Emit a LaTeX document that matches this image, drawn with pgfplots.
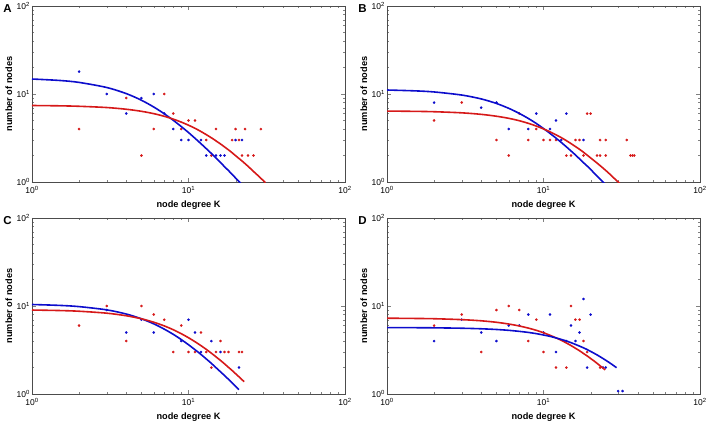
\documentclass[border=0pt]{standalone}
\usepackage{pgfplots}
\pgfplotsset{compat=1.18}
\usepackage{fontspec}
\setmainfont{Liberation Sans}
\usepackage{graphicx}
\definecolor{myblue}{rgb}{0.05,0.05,0.80}
\definecolor{myred}{rgb}{0.84,0.1,0.1}
\newcommand{\tl}[1]{10\textsuperscript{#1}}
\pgfplotsset{every axis/.append style={
    scale only axis, width=313pt, height=176pt, anchor=south west,
    xmin=1, xmax=100, ymin=1, ymax=100, clip mode=individual,
    axis line style={line width=0.6pt, black!70},
    tick align=inside, xtick pos=both, ytick pos=both,
    major tick length=4pt, minor tick length=2pt,
    xtick={1,10,100}, ytick={1,10,100},
    xticklabels={\tl{0},\tl{1},\tl{2}},
    yticklabels={\tl{0},\tl{1},\tl{2}},
    tick label style={font=\fontsize{8.5}{9}\selectfont},
    xticklabel style={yshift=-1pt},
    yticklabel style={xshift=1.5pt},
    xlabel={\bfseries node degree K},
    ylabel={\bfseries number of nodes},
    label style={font=\fontsize{9.2}{10}\selectfont},
    xlabel style={at={(axis description cs:0.5,0)}, anchor=base, yshift=-25pt},
    ylabel style={at={(axis description cs:-0.074,0.5)}, anchor=center},
}}
\begin{document}
\begin{tikzpicture}
\useasboundingbox (0,0) rectangle (708pt,426pt);
% ---------------- A
\begin{loglogaxis}[at={(32pt,244pt)}]
\addplot[only marks, mark=*, mark size=1.1pt, myblue] coordinates {(2,18)(3,10)(4,6)(5,9)(6,10)(7,6)(8,4)(9,3)(10,3)(12,3)(13,2)(15,2)(16,2)(17,2)(20,3)(22,3)};
\addplot[only marks, mark=*, mark size=1.1pt, myred] coordinates {(2,4)(4,9)(5,2)(6,4)(7,10)(8,6)(9,4)(10,5)(11,5)(13,3)(14,2)(15,4)(19,3)(20,4)(21,3)(22,2)(23,4)(24,2)(26,2)(29,4)};
\addplot[smooth, no marks, line width=1.6pt, myblue] coordinates {(1,14.80)(1.5,14.25)(2,13.54)(3,11.86)(4,10.11)(5,8.50)(6,7.11)(7,5.96)(8,5.02)(9,4.26)(10,3.65)(11,3.14)(12,2.73)(13,2.39)(14,2.11)(15,1.87)(16,1.67)(17,1.49)(18,1.35)(19,1.22)(20,1.11)(21,1.014)(22,0.929)};
\addplot[smooth, no marks, line width=1.6pt, myred] coordinates {(1,7.40)(1.5,7.34)(2,7.25)(3,7.02)(4,6.71)(5,6.36)(6,5.98)(7,5.58)(8,5.18)(9,4.79)(10,4.42)(11,4.08)(12,3.75)(13,3.45)(14,3.18)(15,2.93)(16,2.71)(17,2.50)(18,2.32)(19,2.15)(20,1.99)(22,1.73)(24,1.51)(26,1.32)(28,1.17)(30,1.04)(31,0.983)};
\node[font=\fontsize{11.5}{12}\selectfont\bfseries] at (axis description cs:-0.078,0.985) {A};
\end{loglogaxis}
% ---------------- B
\begin{loglogaxis}[at={(387pt,244pt)}]
\addplot[only marks, mark=*, mark size=1.1pt, myblue] coordinates {(2,8)(4,7)(5,8)(6,4)(8,4)(9,6)(11,4)(12,5)(13,3)(14,6)(18,3)};
\addplot[only marks, mark=*, mark size=1.1pt, myred] coordinates {(2,5)(3,8)(5,3)(6,2)(7,6)(8,3)(9,4)(10,3)(11,3)(12,3)(14,2)(15,2)(16,3)(17,3)(18,2)(19,6)(20,6)(22,2)(23,2)(23,3)(25,2)(25,3)(34,3)(36,2)(37,2)(38,2)};
\addplot[smooth, no marks, line width=1.6pt, myblue] coordinates {(1,11.10)(1.5,10.86)(2,10.55)(3,9.73)(4,8.79)(5,7.81)(6,6.87)(7,6.02)(8,5.27)(9,4.62)(10,4.05)(11,3.57)(12,3.16)(13,2.81)(14,2.51)(15,2.25)(16,2.03)(17,1.83)(18,1.66)(19,1.52)(20,1.39)(21,1.27)(22,1.17)(23,1.08)(24,1.00)(25,0.93)};
\addplot[smooth, no marks, line width=1.6pt, myred] coordinates {(1,6.40)(1.5,6.35)(2,6.29)(3,6.11)(4,5.87)(5,5.59)(6,5.29)(7,4.97)(8,4.64)(9,4.32)(10,4.01)(11,3.72)(12,3.44)(13,3.19)(14,2.95)(15,2.73)(16,2.53)(17,2.35)(18,2.18)(19,2.02)(20,1.88)(22,1.64)(24,1.44)(26,1.27)(28,1.12)(30,1.00)(31,0.946)};
\node[font=\fontsize{11.5}{12}\selectfont\bfseries] at (axis description cs:-0.078,0.985) {B};
\end{loglogaxis}
% ---------------- C
\begin{loglogaxis}[at={(32pt,32pt)}]
\addplot[only marks, mark=*, mark size=1.1pt, myblue] coordinates {(3,9)(4,5)(5,7)(6,5)(9,4)(10,7)(11,5)(12,3)(14,4)(16,3)(21,2)};
\addplot[only marks, mark=*, mark size=1.1pt, myred] coordinates {(2,6)(3,10)(4,4)(5,10)(6,8)(7,7)(8,3)(9,6)(10,3)(11,3)(12,5)(13,3)(14,2)(15,3)(16,4)(17,3)(18,3)(21,3)(22,3)};
\addplot[smooth, no marks, line width=1.6pt, myblue] coordinates {(1,10.40)(1.5,10.16)(2,9.84)(3,9.04)(4,8.11)(5,7.16)(6,6.27)(7,5.46)(8,4.76)(9,4.15)(10,3.63)(11,3.19)(12,2.82)(13,2.50)(14,2.23)(15,1.99)(16,1.79)(17,1.62)(18,1.47)(19,1.34)(20,1.22)(21,1.12)};
\addplot[smooth, no marks, line width=1.6pt, myred] coordinates {(1,9.00)(1.5,8.88)(2,8.72)(3,8.29)(4,7.75)(5,7.16)(6,6.54)(7,5.94)(8,5.37)(9,4.84)(10,4.36)(11,3.93)(12,3.55)(13,3.21)(14,2.91)(15,2.64)(16,2.41)(17,2.20)(18,2.01)(19,1.85)(20,1.70)(21,1.57)(22,1.45)(22.7,1.38)};
\node[font=\fontsize{11.5}{12}\selectfont\bfseries] at (axis description cs:-0.078,0.985) {C};
\end{loglogaxis}
% ---------------- D
\begin{loglogaxis}[at={(387pt,32pt)}]
\addplot[only marks, mark=*, mark size=1.1pt, myblue] coordinates {(2,4)(3,7)(4,5)(5,4)(6,6)(7,6)(8,8)(10,5)(11,8)(12,3)(14,4)(15,6)(16,4)(17,5)(18,12)(19,2)(20,8)(24,2)(25,2)(30,1.08)(32,1.08)};
\addplot[only marks, mark=*, mark size=1.1pt, myred] coordinates {(2,6)(3,8)(4,3)(5,9)(6,10)(7,9)(8,4)(9,7)(10,3)(12,2)(14,2)(15,10)(16,7)(17,7)(18,4)(19,3)(23,2)};
\addplot[smooth, no marks, line width=1.6pt, myred] coordinates {(1,7.27)(1.5,7.22)(2,7.17)(3,7.00)(4,6.79)(5,6.53)(6,6.24)(7,5.93)(8,5.61)(9,5.29)(10,4.97)(11,4.65)(12,4.35)(13,4.07)(14,3.80)(15,3.55)(16,3.31)(17,3.10)(18,2.89)(19,2.71)(20,2.53)(21,2.38)(22,2.23)(23,2.09)(24,1.97)(24.8,1.88)};
\addplot[smooth, no marks, line width=1.6pt, myblue] coordinates {(1,5.69)(1.5,5.67)(2,5.65)(3,5.59)(4,5.51)(5,5.41)(6,5.29)(7,5.15)(8,5.01)(9,4.85)(10,4.68)(11,4.52)(12,4.34)(13,4.17)(14,4.00)(15,3.83)(16,3.66)(17,3.50)(18,3.35)(19,3.20)(20,3.05)(22,2.78)(24,2.53)(26,2.31)(28,2.11)(29.3,1.99)};
\node[font=\fontsize{11.5}{12}\selectfont\bfseries] at (axis description cs:-0.078,0.985) {D};
\end{loglogaxis}
\end{tikzpicture}
\end{document}
